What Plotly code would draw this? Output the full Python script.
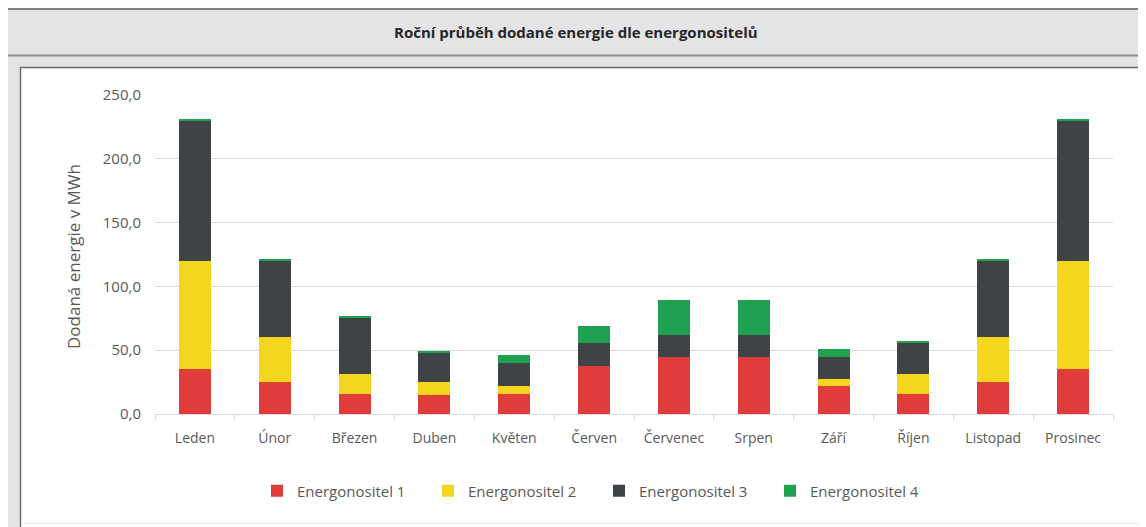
import plotly.graph_objects as go

months = ["Leden", "Únor", "Březen", "Duben", "Květen", "Červen",
          "Červenec", "Srpen", "Září", "Říjen", "Listopad", "Prosinec"]
energonositel_1 = [35, 25, 16, 15, 16, 38, 45, 45, 22, 16, 25, 35]
energonositel_2 = [85, 35, 15, 10, 6, 0, 0, 0, 5.5, 15, 35, 85]
energonositel_3 = [110, 60, 45, 23, 18, 18, 17, 17, 17.3, 25, 60, 110]
energonositel_4 = [1, 1, 1, 1.5, 6, 13, 27, 27, 6.5, 1, 1, 1]
series_names = ["Energonositel 1", "Energonositel 2", "Energonositel 3", "Energonositel 4"]
colors = ["#e03c3c", "#f5d61f", "#404346", "#1fa150"]

# page is rendered with the browser's default 8px body margin
OFF = 8
W, H = 1146 - OFF, 527 - OFF
ML, MT = 155 - OFF, 95 - OFF
MR = W - (1113 - OFF)
MB = H - (414 - OFF)
PW, PH = W - ML - MR, H - MT - MB


def px2x(px):
    """page pixel x -> paper coordinate"""
    return (px - OFF - ML) / PW


def px2y(py):
    """page pixel y -> paper coordinate"""
    return (H - MB - (py - OFF)) / PH


FONT = "Open Sans, Liberation Sans, sans-serif"
TXT = "#595959"

fig = go.Figure()
for name, vals, col in zip(series_names,
                           [energonositel_1, energonositel_2, energonositel_3, energonositel_4],
                           colors):
    fig.add_trace(go.Bar(x=months, y=vals, name=name, marker=dict(color=col, line=dict(width=0))))

shapes = [
    # outer grey frame
    dict(type="rect", xref="paper", yref="paper", x0=px2x(7), x1=px2x(1170), y0=px2y(9), y1=px2y(560),
         fillcolor="#e4e4e6", line=dict(color="#7f7f7f", width=2), layer="below"),
    # separator under title band
    dict(type="line", xref="paper", yref="paper", x0=px2x(7), x1=px2x(1170), y0=px2y(55.5), y1=px2y(55.5),
         line=dict(color="#8c8c8c", width=2), layer="below"),
    # inner white panel
    dict(type="rect", xref="paper", yref="paper", x0=px2x(20.5), x1=px2x(1170), y0=px2y(67.5), y1=px2y(560),
         fillcolor="white", line=dict(color="#6b6b6b", width=1.5), layer="below"),
    dict(type="line", xref="paper", yref="paper", x0=px2x(21), x1=px2x(1170), y0=px2y(523.5), y1=px2y(523.5),
         line=dict(color="#e8e8e8", width=1), layer="below"),
]

annotations = [
    dict(text="<b>Roční průběh dodané energie dle energonositelů</b>", xref="paper", yref="paper",
         x=px2x(576), y=px2y(32), xanchor="center", yanchor="middle", showarrow=False,
         font=dict(family=FONT, size=15, color="#262626")),
    dict(text="Dodaná energie v MWh", xref="paper", yref="paper", x=px2x(73), y=px2y(257),
         xanchor="center", yanchor="middle", textangle=-90, showarrow=False,
         font=dict(family=FONT, size=17, color=TXT)),
]

fig.update_layout(
    width=W, height=H,
    margin=dict(l=ML, r=MR, t=MT, b=MB, pad=0),
    barmode="stack", bargap=0.6,
    paper_bgcolor="white", plot_bgcolor="white",
    separators=", ",
    shapes=shapes, annotations=annotations,
    font=dict(family=FONT, color=TXT),
    legend=dict(orientation="h", x=px2x(257), y=px2y(491), xanchor="left", yanchor="middle",
                font=dict(family=FONT, size=15, color=TXT), itemwidth=30,
                entrywidth=126, entrywidthmode="pixels", traceorder="normal",
                bgcolor="rgba(0,0,0,0)"),
    showlegend=True,
)
fig.update_xaxes(
    type="category", tickson="boundaries", ticks="outside", ticklen=5, tickcolor="#d9d9d9",
    showline=True, linecolor="#d9d9d9", linewidth=1, showgrid=False,
    tickfont=dict(family=FONT, size=14, color=TXT), ticklabelstandoff=11,
)
fig.update_yaxes(
    range=[0, 250], tickvals=[0, 50, 100, 150, 200, 250], tickformat=".1f",
    showgrid=True, gridcolor="#d9d9d9", gridwidth=1, zeroline=False, showline=False,
    tickfont=dict(family=FONT, size=15, color=TXT), ticklabelstandoff=13,
)

fig.write_html("out.html")
